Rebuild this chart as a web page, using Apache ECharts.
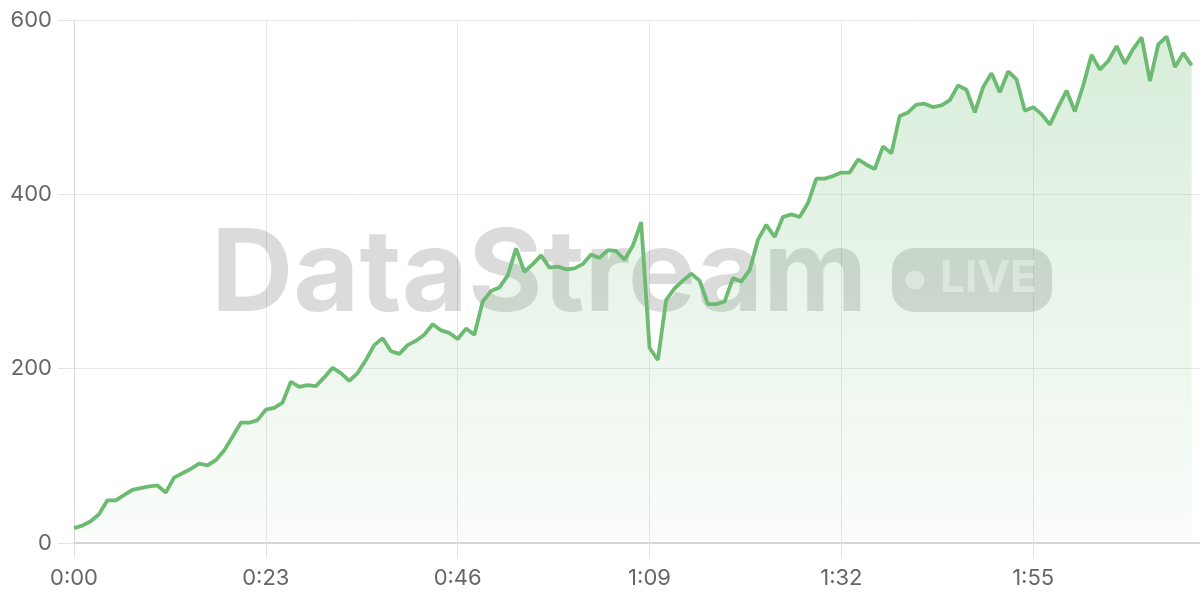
<!DOCTYPE html>
<html>
<head>
<meta charset="utf-8">
<script src="https://cdn.jsdelivr.net/npm/echarts@6/dist/echarts.min.js"></script>
<style>
html,body{margin:0;padding:0;background:#fff;}
#main{width:1200px;height:600px;}
</style>
</head>
<body>
<div id="main"></div>
<script>
// seconds elapsed (0..134)
const seconds = [];
for (let i = 0; i <= 134; i++) seconds.push(i);
// values, one per second
const values = [
  17,20,25,33,49,49,55,61,63,65,
  66,58,75,80,85,91,89,95,106,122,
  138,138,141,153,155,161,185,179,181,180,
  190,201,195,186,195,210,227,235,220,217,
  227,232,239,251,244,241,234,246,239,277,
  289,293,307,338,311,320,330,316,317,314,
  315,320,331,327,336,335,325,341,368,224,
  210,279,292,301,309,301,274,274,277,304,
  300,313,348,365,351,374,377,374,390,418,
  418,421,425,425,440,434,429,455,447,490,
  494,503,504,500,502,508,525,520,494,523,
  539,517,541,532,496,500,492,480,500,519,
  495,525,560,543,553,570,550,567,580,530,
  572,581,546,562,548
];
const yTicks = [0, 200, 400, 600];
const xTickStep = 23;
const watermarkText = 'DataStream';
const badgeText = 'LIVE';

function fmtTime(s) {
  const m = Math.floor(s / 60);
  const r = Math.round(s % 60);
  return m + ':' + (r < 10 ? '0' : '') + r;
}

// watermark sized to span the same width as in the reference
const ctx = document.createElement('canvas').getContext('2d');
ctx.font = 'bold 100px Inter';
const wmSize = Math.round(100 * 659 / ctx.measureText(watermarkText).width);
const wmFont = 'bold ' + wmSize + 'px Inter';

const chart = echarts.init(document.getElementById('main'), null, {renderer: 'canvas'});
const green = '#6dbb72';
chart.setOption({
  animation: false,
  grid: {left: 74, right: 0, top: 20, bottom: 57},
  graphic: [
    {
      type: 'text', z: 1, silent: true,
      x: 211, y: 229 - Math.round(wmSize * 0.075),
      style: {text: watermarkText, font: wmFont, fill: 'rgba(0,0,0,0.14)', textVerticalAlign: 'top'}
    },
    {
      type: 'rect', z: 1, silent: true,
      shape: {x: 892, y: 248, width: 160, height: 64, r: 22},
      style: {fill: 'rgba(0,0,0,0.14)'}
    },
    {
      type: 'circle', z: 1, silent: true,
      shape: {cx: 915, cy: 280, r: 9.5},
      style: {fill: 'rgba(255,255,255,0.55)'}
    },
    {
      type: 'text', z: 1, silent: true,
      left: 940, top: 257,
      style: {text: badgeText, font: 'bold 44px Inter', fill: 'rgba(255,255,255,0.55)'}
    }
  ],
  xAxis: {
    type: 'value',
    min: 0, max: 135, interval: xTickStep,
    axisLine: {show: true, lineStyle: {color: '#cccccc', width: 1.5}},
    axisTick: {show: true, length: 15, lineStyle: {color: '#e4e4e4'}},
    splitLine: {show: true, lineStyle: {color: '#e8e8e8'}},
    axisLabel: {
      showMaxLabel: false, margin: 24,
      color: '#666', fontFamily: 'Inter', fontSize: 22,
      formatter: v => fmtTime(v)
    }
  },
  yAxis: {
    type: 'value',
    min: yTicks[0], max: yTicks[yTicks.length - 1], interval: 200,
    axisLine: {show: true, lineStyle: {color: '#dadada'}},
    axisTick: {show: true, length: 16, lineStyle: {color: '#e4e4e4'}},
    splitLine: {show: true, lineStyle: {color: '#e8e8e8'}},
    axisLabel: {margin: 22, color: '#666', fontFamily: 'Inter', fontSize: 22}
  },
  series: [{
    type: 'line',
    data: seconds.map((s, i) => [s, values[i]]),
    showSymbol: false,
    z: 3,
    lineStyle: {color: green, width: 3.8},
    areaStyle: {
      color: new echarts.graphic.LinearGradient(0, 0, 0, 1, [
        {offset: 0, color: 'rgba(109,187,114,0.38)'},
        {offset: 1, color: 'rgba(109,187,114,0.05)'}
      ])
    }
  }]
});
</script>
</body>
</html>
